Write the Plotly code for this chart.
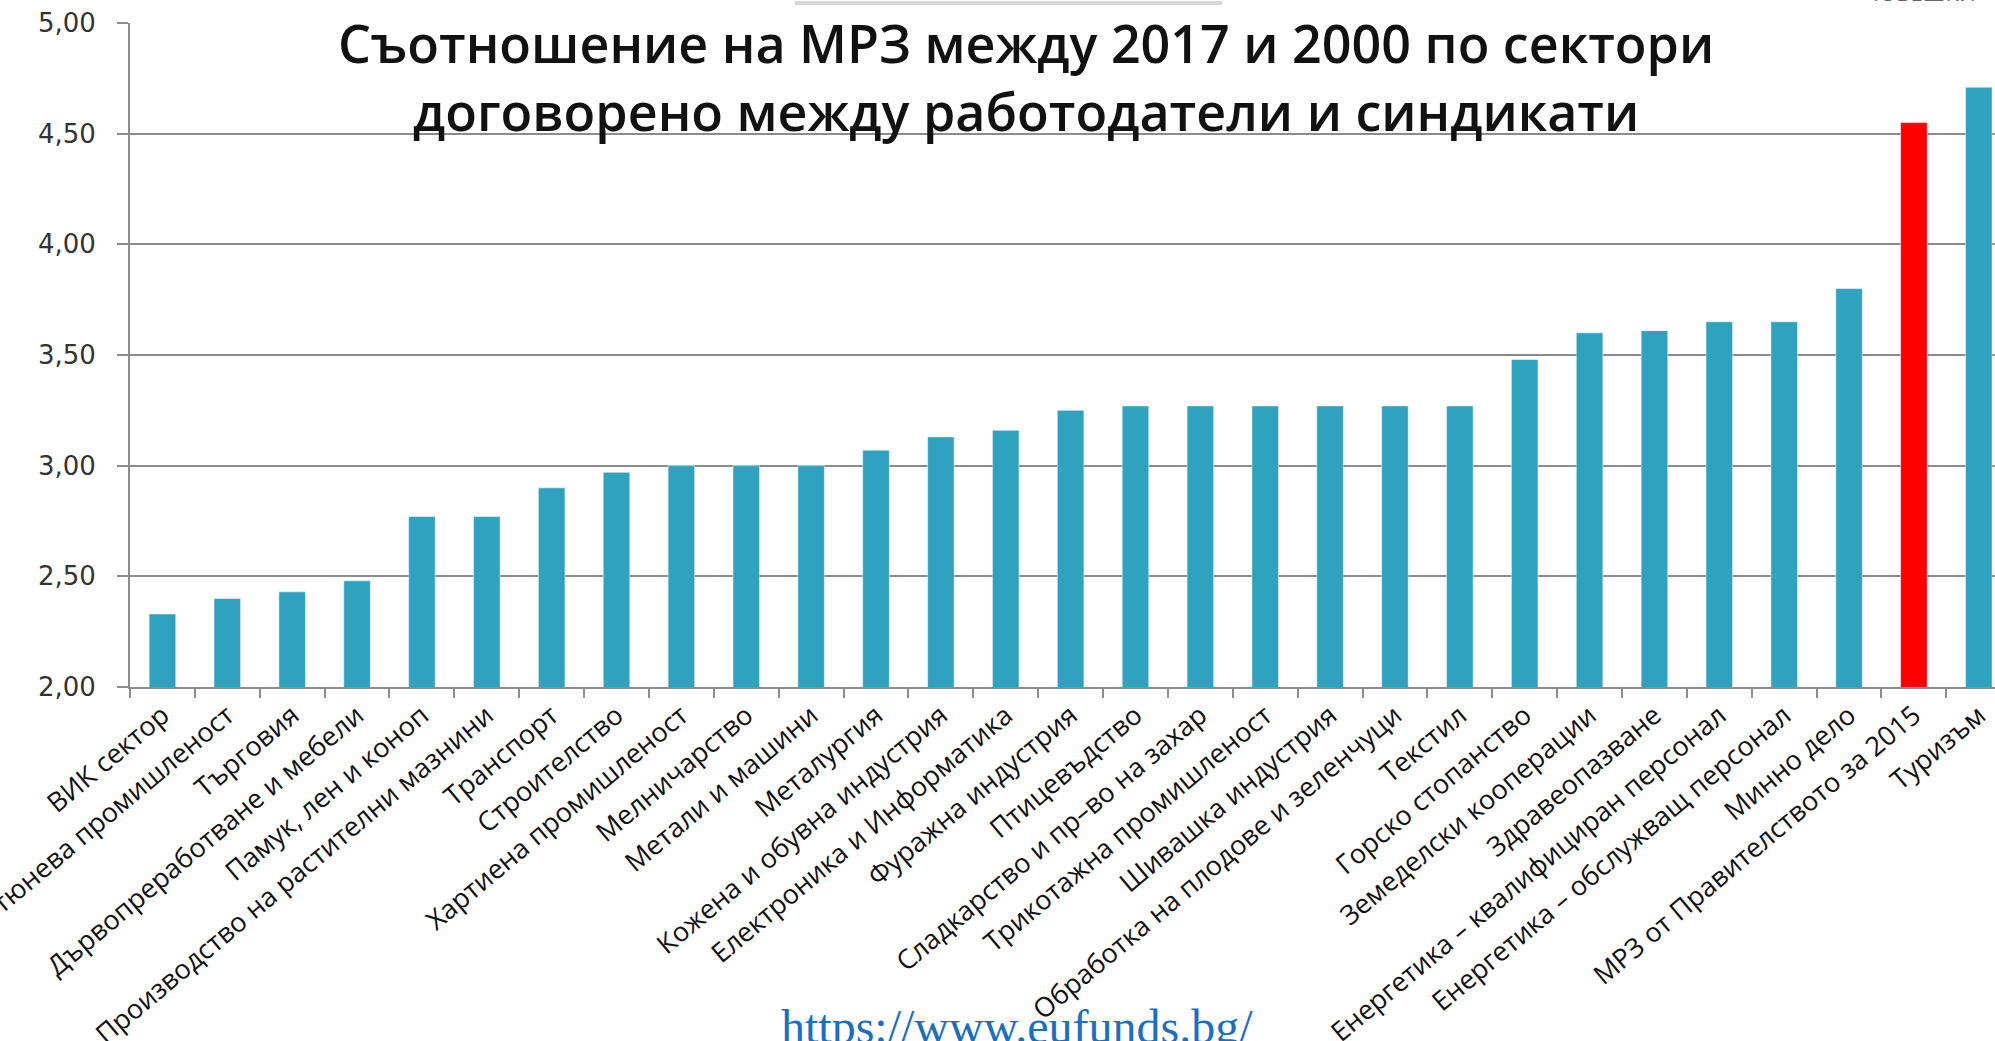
import plotly.graph_objects as go

categories = [
    "ВИК сектор",
    "Тютюнева промишленост",
    "Търговия",
    "Дървопреработване и мебели",
    "Памук, лен и коноп",
    "Производство на растителни мазнини",
    "Транспорт",
    "Строителство",
    "Хартиена промишленост",
    "Мелничарство",
    "Метали и машини",
    "Металургия",
    "Кожена и обувна индустрия",
    "Електроника и Информатика",
    "Фуражна индустрия",
    "Птицевъдство",
    "Сладкарство и пр–во на захар",
    "Трикотажна промишленост",
    "Шивашка индустрия",
    "Обработка на плодове и зеленчуци",
    "Текстил",
    "Горско стопанство",
    "Земеделски кооперации",
    "Здравеопазване",
    "Енергетика – квалифициран персонал",
    "Енергетика – обслужващ персонал",
    "Минно дело",
    "МРЗ от Правителството за 2015",
    "Туризъм",
]
values = [2.33, 2.40, 2.43, 2.48, 2.77, 2.77, 2.90, 2.97, 3.00, 3.00, 3.00,
          3.07, 3.13, 3.16, 3.25, 3.27, 3.27, 3.27, 3.27, 3.27, 3.27, 3.48,
          3.60, 3.61, 3.65, 3.65, 3.80, 4.55, 4.71]
highlight = "МРЗ от Правителството за 2015"
title_lines = ["Съотношение на МРЗ между 2017 и 2000 по сектори",
               "договорено между работодатели и синдикати"]
source_text = "https://www.eufunds.bg/"

W, H = 1995, 1041
L, R, T, B = 130, 0, 23, 354
plot_w = W - L - R
plot_h = H - T - B

def px_x(p):
    return (p - L) / plot_w

def px_y(p):
    return (H - B - p) / plot_h

BLUE = "#2ea2bf"
RED = "#ff0000"
colors = [RED if c == highlight else BLUE for c in categories]

fig = go.Figure(go.Bar(
    x=categories,
    y=values,
    marker=dict(color=colors, line=dict(color="rgba(255,255,255,0.5)", width=1)),
    width=0.41,
))

fig.update_layout(
    width=W, height=H,
    margin=dict(l=L, r=R, t=T, b=B, pad=0, autoexpand=False),
    paper_bgcolor="white", plot_bgcolor="white",
    separators=", ",
    showlegend=False,
    font=dict(family="Open Sans", color="#111"),
)

fig.update_xaxes(
    type="category",
    range=[-0.5, 28.25],
    automargin=False,
    showline=True, linecolor="#8c8c8c", linewidth=2,
    ticks="outside", ticklen=9, tickwidth=2, tickcolor="#8c8c8c",
    tickson="boundaries",
    tickangle=-40,
    tickfont=dict(family="Open Sans", size=27, color="#111"),
    showgrid=False,
)

fig.update_yaxes(
    range=[2, 5], dtick=0.5, tick0=2,
    tickformat=".2f",
    automargin=False,
    showline=True, linecolor="#8c8c8c", linewidth=2,
    showgrid=True, gridcolor="#8c8c8c", gridwidth=2,
    ticks="outside", ticklen=11, tickwidth=2, tickcolor="#8c8c8c",
    ticklabelstandoff=16,
    tickfont=dict(family="DejaVu Sans", size=26, color="#333"),
    zeroline=False,
)

# two-line title
fig.add_annotation(
    text="<br>".join(title_lines), xref="paper", yref="paper",
    x=px_x(1026), y=px_y(76), xanchor="center", yanchor="middle",
    showarrow=False, align="center",
    font=dict(family="Open Sans", size=52, color="#111", weight=600),
)

# source url at bottom (partly cut by page edge)
fig.add_annotation(
    text=source_text, xref="paper", yref="paper",
    x=px_x(1017), y=px_y(1026), xanchor="center", yanchor="middle",
    showarrow=False,
    font=dict(family="Liberation Serif", size=48, color="#1a6fc2"),
)

# faint artifacts at the top of the screenshot
fig.add_shape(type="line", xref="paper", yref="paper",
              x0=px_x(795), x1=px_x(1222), y0=px_y(3), y1=px_y(3),
              line=dict(color="#d6d6d6", width=4))
fig.add_annotation(
    text="ЧОВЕШКИ", xref="paper", yref="paper",
    x=px_x(1862), y=px_y(-8), xanchor="left", yanchor="middle",
    showarrow=False,
    font=dict(family="Open Sans", size=22, color="#666"),
)

fig.write_html(
    "out.html",
    config={"displayModeBar": False},
    post_script="document.body.style.margin='0';document.body.style.overflow='hidden';",
)
